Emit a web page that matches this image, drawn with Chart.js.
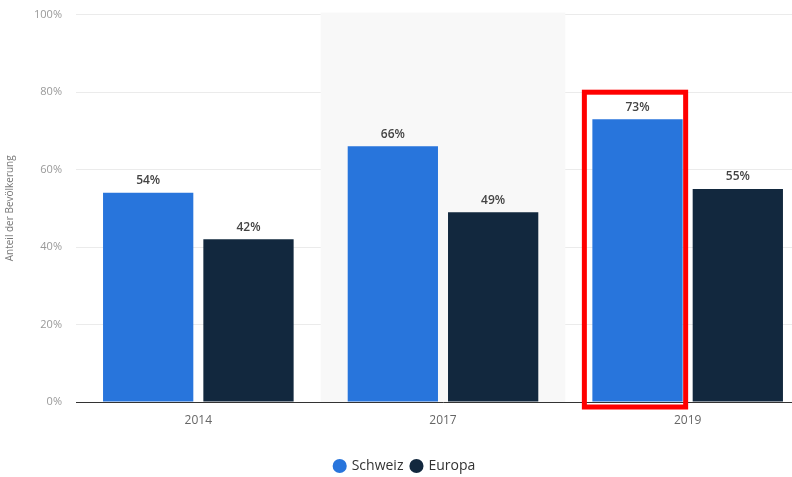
<!DOCTYPE html>
<html>
<head>
<meta charset="utf-8">
<script src="https://cdn.jsdelivr.net/npm/chart.js@4"></script>
<style>
    html, body { margin: 0; padding: 0; background: #fff; overflow: hidden; }
    #wrap { width: 812px; height: 491px; margin-top: -6px; }
</style>
</head>
<body>
<div id="wrap"><canvas id="chart"></canvas></div>
<script>
var years = ['2014', '2017', '2019'];
var schweiz = [54, 66, 73];
var europa = [42, 49, 55];
var yTicks = [0, 20, 40, 60, 80, 100];

// grauer Hintergrund hinter der mittleren Kategorie
var bandPlugin = {
    id: 'band',
    beforeDatasetsDraw: function(chart) {
        var ctx = chart.ctx;
        var x = chart.scales.x;
        var area = chart.chartArea;
        var w = x.getPixelForValue(1) - x.getPixelForValue(0);
        var cx = x.getPixelForValue(1);
        ctx.save();
        ctx.fillStyle = '#f8f8f8';
        ctx.fillRect(cx - w / 2, area.top - 2, w, area.bottom - area.top + 2);
        ctx.restore();
    }
};

// Werte über den Balken + roter Rahmen um Schweiz 2019
var labelPlugin = {
    id: 'labels',
    afterDatasetsDraw: function(chart) {
        var ctx = chart.ctx;
        ctx.save();
        ctx.font = '600 12px "Open Sans"';
        ctx.fillStyle = '#444';
        ctx.textAlign = 'center';
        ctx.textBaseline = 'bottom';
        chart.data.datasets.forEach(function(ds, i) {
            chart.getDatasetMeta(i).data.forEach(function(bar, j) {
                ctx.fillText(ds.data[j] + '%', bar.x, bar.y - 6);
            });
        });
        var b = chart.getDatasetMeta(0).data[2];
        ctx.strokeStyle = '#ff0000';
        ctx.lineWidth = 5;
        ctx.strokeRect(b.x - b.width / 2 - 8, b.y - 27, b.width + 11, chart.chartArea.bottom - b.y + 32);
        ctx.restore();
    }
};

var ctx = document.getElementById('chart').getContext('2d');
var chart = new Chart(ctx, {
    type: 'bar',
    data: {
        labels: years,
        datasets: [
            { label: 'Schweiz', data: schweiz, backgroundColor: '#2875dc' },
            { label: 'Europa', data: europa, backgroundColor: '#12283e' }
        ]
    },
    plugins: [bandPlugin, labelPlugin],
    options: {
        responsive: true,
        maintainAspectRatio: false,
        animation: false,
        layout: { padding: { top: 2, right: 2, left: 0, bottom: 2 } },
        datasets: {
            bar: { categoryPercentage: 0.82, barPercentage: 0.9 }
        },
        scales: {
            x: {
                grid: { display: false },
                border: { color: '#333', width: 1 },
                ticks: { color: '#666', font: { family: 'Open Sans', size: 12 }, padding: 3 },
                afterFit: function(s) { s.height = 49; }
            },
            y: {
                min: 0,
                max: 100,
                afterBuildTicks: function(s) {
                    s.ticks = yTicks.map(function(v) { return { value: v }; });
                },
                grid: { color: '#ebebeb', drawTicks: false },
                border: { display: false },
                ticks: {
                    color: '#999',
                    padding: 14,
                    font: { family: 'Open Sans', size: 11 },
                    callback: function(v) { return v + '%'; }
                },
                title: {
                    display: true,
                    text: 'Anteil der Bevölkerung',
                    color: '#777',
                    font: { family: 'Open Sans', size: 10 },
                    padding: { bottom: 4 }
                },
                afterFit: function(s) { s.width = 76; }
            }
        },
        plugins: {
            legend: {
                position: 'bottom',
                labels: {
                    usePointStyle: true,
                    pointStyle: 'circle',
                    boxWidth: 10,
                    boxHeight: 10,
                    padding: 8,
                    color: '#333',
                    font: { family: 'Open Sans', size: 14 }
                }
            },
            tooltip: { enabled: false }
        }
    }
});
</script>
</body>
</html>
